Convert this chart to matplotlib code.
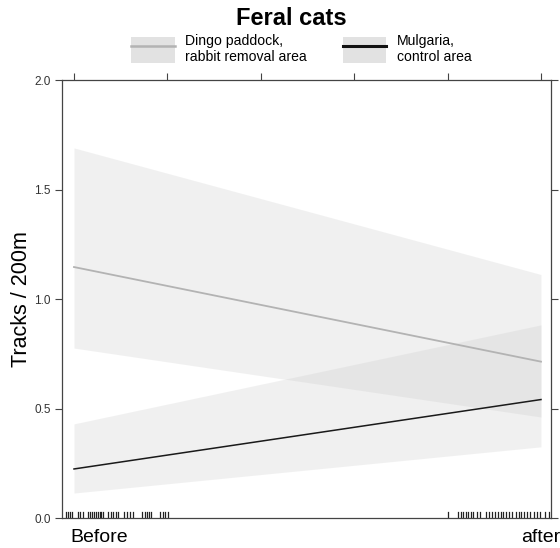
import matplotlib.pyplot as plt
from matplotlib.patches import Patch
from matplotlib.lines import Line2D

plt.rcParams['font.family'] = ['Liberation Sans', 'DejaVu Sans']

# period: 0 = before, 1 = after
period = [0, 1]

# dingo paddock, rabbit removal area
dingo_fit = [1.146, 0.714]
dingo_lo = [0.776, 0.461]
dingo_hi = [1.690, 1.112]

# mulgaria, control area
mulg_fit = [0.224, 0.541]
mulg_lo = [0.114, 0.325]
mulg_hi = [0.430, 0.882]

# rug of observation times
rug_before = [-0.017, -0.013, -0.009, -0.004, 0.009, 0.013, 0.019, 0.030, 0.034,
              0.039, 0.043, 0.047, 0.051, 0.056, 0.058, 0.062, 0.073, 0.079, 0.084,
              0.090, 0.094, 0.107, 0.113, 0.120, 0.126, 0.146, 0.152, 0.156, 0.161,
              0.165, 0.184, 0.191, 0.195, 0.201]
rug_after = [0.801, 0.822, 0.829, 0.833, 0.839, 0.844, 0.850, 0.854, 0.863, 0.869,
             0.882, 0.889, 0.895, 0.901, 0.908, 0.914, 0.919, 0.925, 0.931, 0.938,
             0.946, 0.953, 0.957, 0.964, 0.970, 0.976, 0.985, 0.991, 0.998, 1.009,
             1.017]

y_ticks = [0.0, 0.5, 1.0, 1.5, 2.0]
top_ticks = [0.0, 0.2, 0.4, 0.6, 0.8, 1.0]

fig = plt.figure(figsize=(5.6, 5.48), dpi=100)
ax = fig.add_axes([0.1107, 0.0547, 0.8732, 0.7993])

ax.fill_between(period, dingo_lo, dingo_hi, color='#cccccc', alpha=0.28, lw=0)
ax.fill_between(period, mulg_lo, mulg_hi, color='#cccccc', alpha=0.28, lw=0)
ax.plot(period, dingo_fit, color='#b3b3b3', lw=1.3)
ax.plot(period, mulg_fit, color='#1a1a1a', lw=1.1)

# rug along the bottom
for r in rug_before + rug_after:
    ax.plot([r, r], [0, 0.028], color='#222222', lw=0.9)

ax.set_xlim(-0.0257, 1.0214)
ax.set_ylim(0, 2)

for s in ax.spines.values():
    s.set_color('#444444')
    s.set_linewidth(0.9)

ax.set_yticks(y_ticks)
ax.set_yticklabels([f'{v:.1f}' for v in y_ticks])
ax.tick_params(axis='y', direction='out', length=5, width=0.8, color='#444444',
               labelsize=8.5, labelcolor='#333333', right=True, pad=3)
ax.set_xticks([])
sec = ax.secondary_xaxis('top')
sec.set_xticks(top_ticks)
sec.set_xticklabels([])
sec.tick_params(direction='out', length=5, width=0.8, color='#444444')
sec.spines['top'].set_visible(False)

ax.text(-0.008, -0.024, 'Before', transform=ax.get_xaxis_transform(),
        ha='left', va='top', fontsize=14)
ax.text(1.0, -0.024, 'after', transform=ax.get_xaxis_transform(),
        ha='center', va='top', fontsize=14)
ax.set_ylabel('Tracks / 200m', fontsize=15.5, labelpad=1.5)

fig.text(0.52, 0.966, 'Feral cats', ha='center', va='center',
         fontsize=17, fontweight='bold')

h1 = (Patch(facecolor='#e2e2e2', edgecolor='none'), Line2D([], [], color='#b3b3b3', lw=1.8))
h2 = (Patch(facecolor='#e2e2e2', edgecolor='none'), Line2D([], [], color='#111111', lw=2.2))
fig.legend([h1, h2], ['Dingo paddock,\nrabbit removal area', 'Mulgaria,\ncontrol area'],
           ncol=2, frameon=False, fontsize=10.1, handlelength=3.1, handleheight=2.4,
           handletextpad=0.75, columnspacing=2.55, loc='center',
           bbox_to_anchor=(0.538, 0.911))

fig.savefig('out.png', dpi=100)
